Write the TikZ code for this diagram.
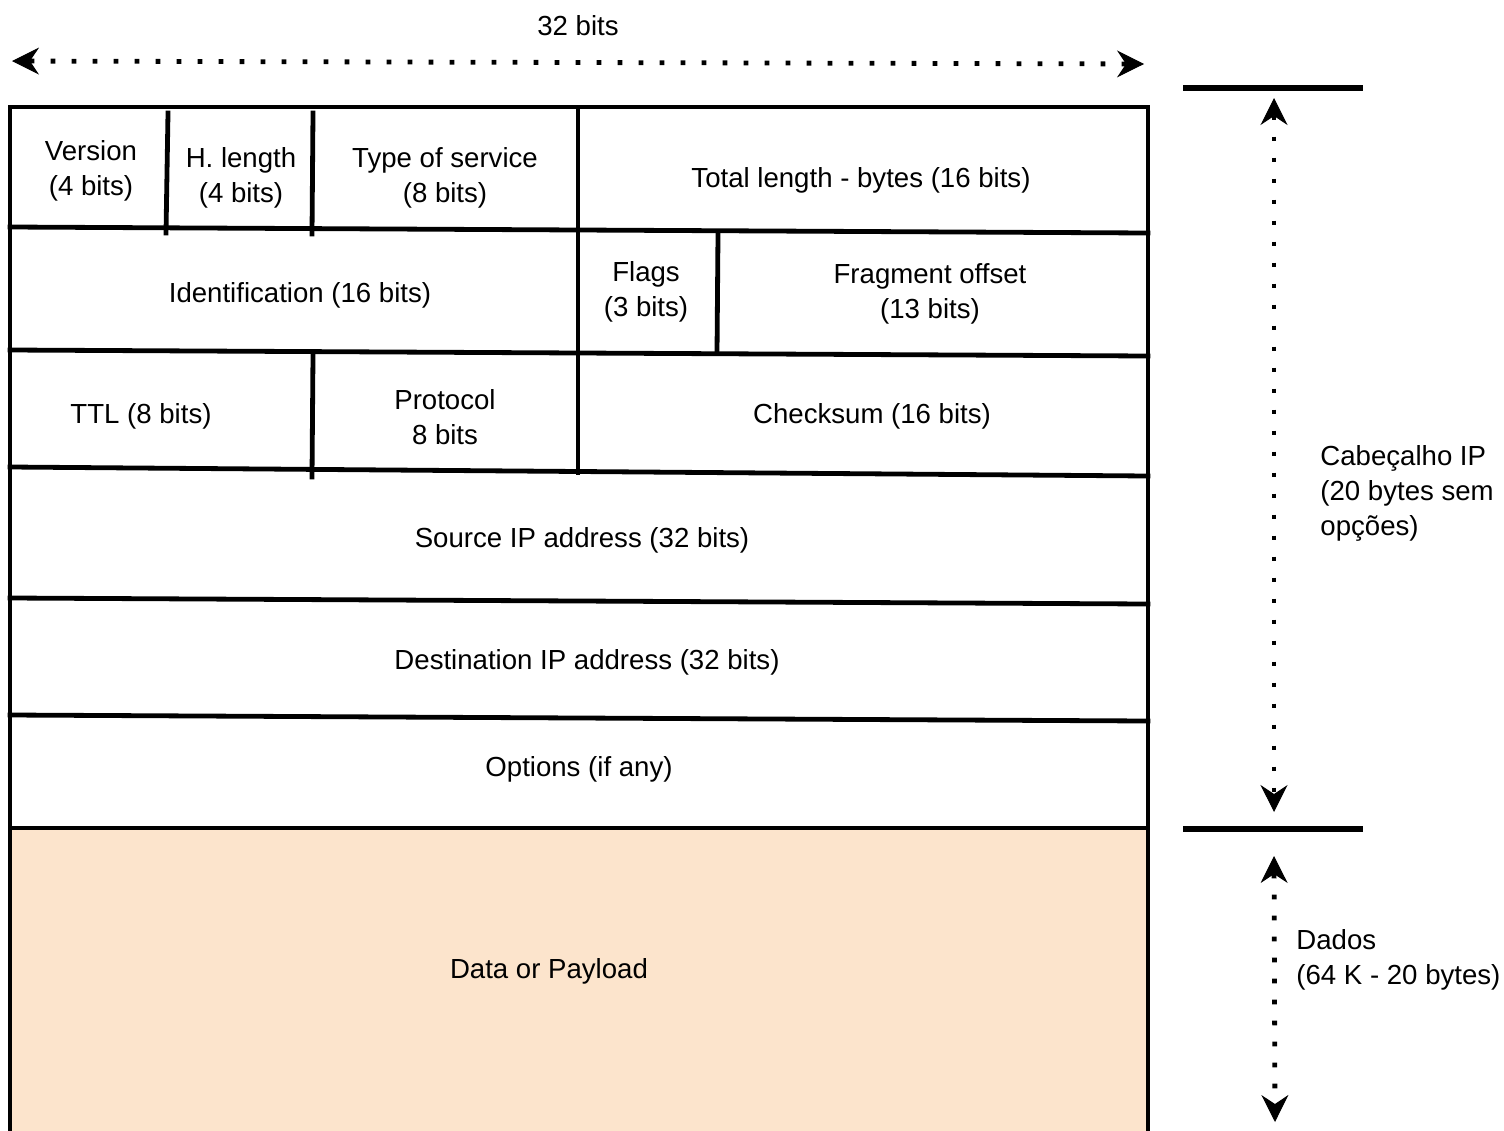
\documentclass[tikz,border=0pt]{standalone}
\usepackage{fontspec}
\setmainfont{Liberation Sans}
\usetikzlibrary{arrows.meta}
\definecolor{payload}{HTML}{FCE4CC}
\tikzset{
  grid/.style={line width=2.4pt, line cap=rect},
  bar/.style={line width=2.9pt},
  lbl/.style={inner sep=0pt, align=center, font=\fontsize{13.8}{17.5}\selectfont},
  lbll/.style={inner sep=0pt, align=left, anchor=west, font=\fontsize{13.8}{17.5}\selectfont},
  tip/.tip={Stealth[length=13.5pt,width=13.5pt,inset=4.5pt,line width=0.5pt]},
  dim/.style={line width=2.4pt, dash pattern=on 2.4pt off 8.1pt, {tip}-{tip}}
}
\begin{document}
\begin{tikzpicture}[x=0.5pt,y=-0.5pt]
\useasboundingbox (0,0) rectangle (1504,1130);
% payload fill
\fill[payload] (10,828) rectangle (1148,1135);
% outer frame
\draw[grid] (10,1135) -- (10,107) -- (1148,107) -- (1148,1135);
% horizontal row lines
\draw[grid] (10,227) -- (1148,233);
\draw[grid] (10,350) -- (1148,356);
\draw[grid] (10,467) -- (1148,476);
\draw[grid] (10,598) -- (1148,604);
\draw[grid] (10,715) -- (1148,721);
\draw[grid] (10,828) -- (1148,828);
% vertical dividers
\draw[grid] (168,113) -- (166,233);
\draw[grid] (313,113) -- (312,234);
\draw[grid] (578,107) -- (578,473);
\draw[grid] (718,234) -- (717,353);
\draw[grid] (313,355) -- (312,477);
% labels in boxes
\node[lbl] (ver) at (91,171) {Version\\(4 bits)};
\node[lbl] (hl) at (241,178) {H. length\\(4 bits)};
\node[lbl] (tos) at (445,178) {Type of service\\(8 bits)};
\node[lbl] (tl) at (861,180) {Total length - bytes (16 bits)};
\node[lbl] (id) at (300,295) {Identification (16 bits)};
\node[lbl] (fl) at (646,292) {Flags\\(3 bits)};
\node[lbl] (fo) at (930,294) {Fragment offset\\(13 bits)};
\node[lbl] (ttl) at (141,416) {TTL (8 bits)};
\node[lbl] (pr) at (445,417) {Protocol\\8 bits};
\node[lbl] (cs) at (872,416) {Checksum (16 bits)};
\node[lbl] (src) at (582,540) {Source IP address (32 bits)};
\node[lbl] (dst) at (587,662) {Destination IP address (32 bits)};
\node[lbl] (opt) at (579,769) {Options (if any)};
\node[lbl] (data) at (549,971) {Data or Payload};
% top dimension
\node[lbl] (w32) at (578,26) {32 bits};
\coordinate (wl) at (12,61);
\coordinate (wr) at (1144,64);
\draw[dim] (wl) -- (wr);
% right side
\coordinate (b1l) at (1183,88);
\coordinate (b1r) at (1363,88);
\coordinate (b2l) at (1183,829);
\coordinate (b2r) at (1363,829);
\draw[bar] (b1l) -- (b1r);
\draw[bar] (b2l) -- (b2r);
\coordinate (h1) at (1274,98);
\coordinate (h2) at (1274,812);
\draw[dim] (h1) -- (h2);
\coordinate (d1) at (1274,856);
\coordinate (d2) at (1275,1122);
\draw[dim] (d1) -- (d2);
\node[lbll] (hdr) at (1320,493) {Cabeçalho IP\\(20 bytes sem\\opções)};
\node[lbll] (dad) at (1296,960) {Dados\\(64 K - 20 bytes)};
\end{tikzpicture}
\end{document}
